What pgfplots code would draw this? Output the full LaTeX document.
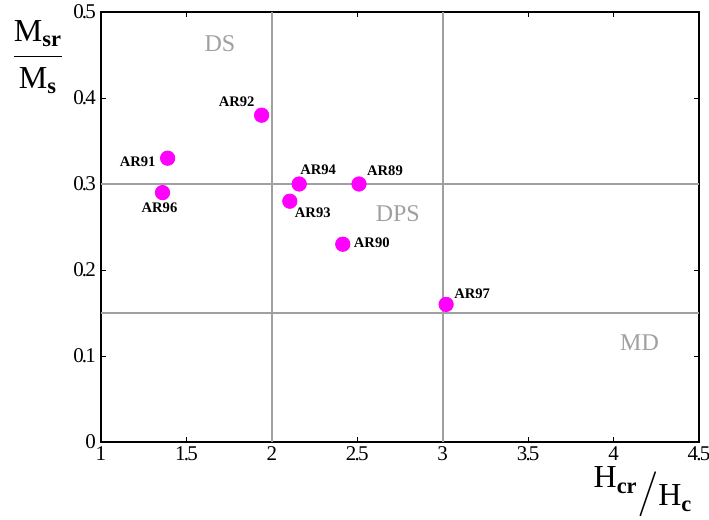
\documentclass[border=0pt]{standalone}
\usepackage{pgfplots}
\pgfplotsset{compat=1.18}
\usepackage{fontspec}
\setmainfont{Liberation Serif}
\definecolor{ptmag}{RGB}{255,0,255}
\definecolor{zone}{RGB}{160,160,160}
% tight decimal point for tick labels
\newcommand{\dd}{\kern-0.9pt.\kern-0.9pt}
\begin{document}
\begin{tikzpicture}
\begin{axis}[
  scale only axis,
  width=299pt, height=215pt,
  xmin=1, xmax=4.5, ymin=0, ymax=0.5,
  xtick={1,1.5,2,2.5,3,3.5,4,4.5},
  ytick={0,0.1,0.2,0.3,0.4,0.5},
  yticklabels={0,0\dd1,0\dd2,0\dd3,0\dd4,0\dd5},
  xticklabels={1,1\dd5,2,2\dd5,3,3\dd5,4,4\dd5},
  tick align=inside,
  major tick length=2.5pt,
  tick style={black, line width=0.5pt},
  axis line style={black, line width=0.7pt},
  ticklabel style={font=\fontsize{10.5}{11}\selectfont},
  xticklabel style={yshift=1pt},
  yticklabel style={xshift=1pt},
  clip=false,
]
% zone boundaries
\addplot[zone, line width=1.1pt] coordinates {(2,0) (2,0.5)};
\addplot[zone, line width=1.1pt] coordinates {(3,0) (3,0.5)};
\addplot[zone, line width=1.1pt] coordinates {(1,0.3) (4.5,0.3)};
\addplot[zone, line width=1.1pt] coordinates {(1,0.15) (4.5,0.15)};

% samples
\addplot[only marks, mark=*, mark size=3.6pt, ptmag, mark options={draw=ptmag, fill=ptmag}]
  coordinates {
    (1.94,0.38)  % AR92
    (1.39,0.33)  % AR91
    (1.36,0.29)  % AR96
    (2.16,0.30)  % AR94
    (2.105,0.28) % AR93
    (2.51,0.30)  % AR89
    (2.415,0.23) % AR90
    (3.02,0.16)  % AR97
  };

\tikzset{lab/.style={font=\fontsize{7.3}{8}\selectfont\bfseries, inner sep=0pt}}
\node[lab] at ([shift={(-12.5pt,6.5pt)}]axis cs:1.94,0.38) {AR92};
\node[lab] at ([shift={(-15pt,-2pt)}]axis cs:1.39,0.33) {AR91};
\node[lab] at ([shift={(-1.5pt,-7.5pt)}]axis cs:1.36,0.29) {AR96};
\node[lab] at ([shift={(9.5pt,7pt)}]axis cs:2.16,0.30) {AR94};
\node[lab] at ([shift={(11.5pt,-6pt)}]axis cs:2.105,0.28) {AR93};
\node[lab] at ([shift={(13pt,6.5pt)}]axis cs:2.51,0.30) {AR89};
\node[lab] at ([shift={(14.5pt,0.5pt)}]axis cs:2.415,0.23) {AR90};
\node[lab] at ([shift={(13pt,5.5pt)}]axis cs:3.02,0.16) {AR97};

\tikzset{reg/.style={font=\fontsize{12}{13}\selectfont, text=zone, inner sep=0pt}}
\node[reg] at (axis cs:1.696,0.463) {DS};
\node[reg] at (axis cs:2.737,0.265) {DPS};
\node[reg] at (axis cs:4.152,0.115) {MD};

% axis titles
\node[inner sep=0pt, font=\fontsize{16}{17}\selectfont] at ([shift={(-31.5pt,-22.5pt)}]rel axis cs:0,1)
  {$\displaystyle\frac{\mathrm{M}_{\mathbf{sr}}}{\mathrm{M}_{\mathbf{s}}}$};
\node[inner sep=0pt, font=\fontsize{16}{17}\selectfont] at ([shift={(-28pt,-25pt)}]rel axis cs:1,0)
  {\raisebox{4pt}{$\mathrm{H}_{\mathbf{cr}}$}\raisebox{-5pt}{\scalebox{1.3}{$\Big/$}}\raisebox{-5pt}{$\mathrm{H}_{\mathbf{c}}$}};
\end{axis}
\pgfresetboundingbox
\path ([shift={(-50.5pt,-38.5pt)}]current axis.south west) rectangle ([shift={(5pt,6pt)}]current axis.north east);
\end{tikzpicture}
\end{document}
